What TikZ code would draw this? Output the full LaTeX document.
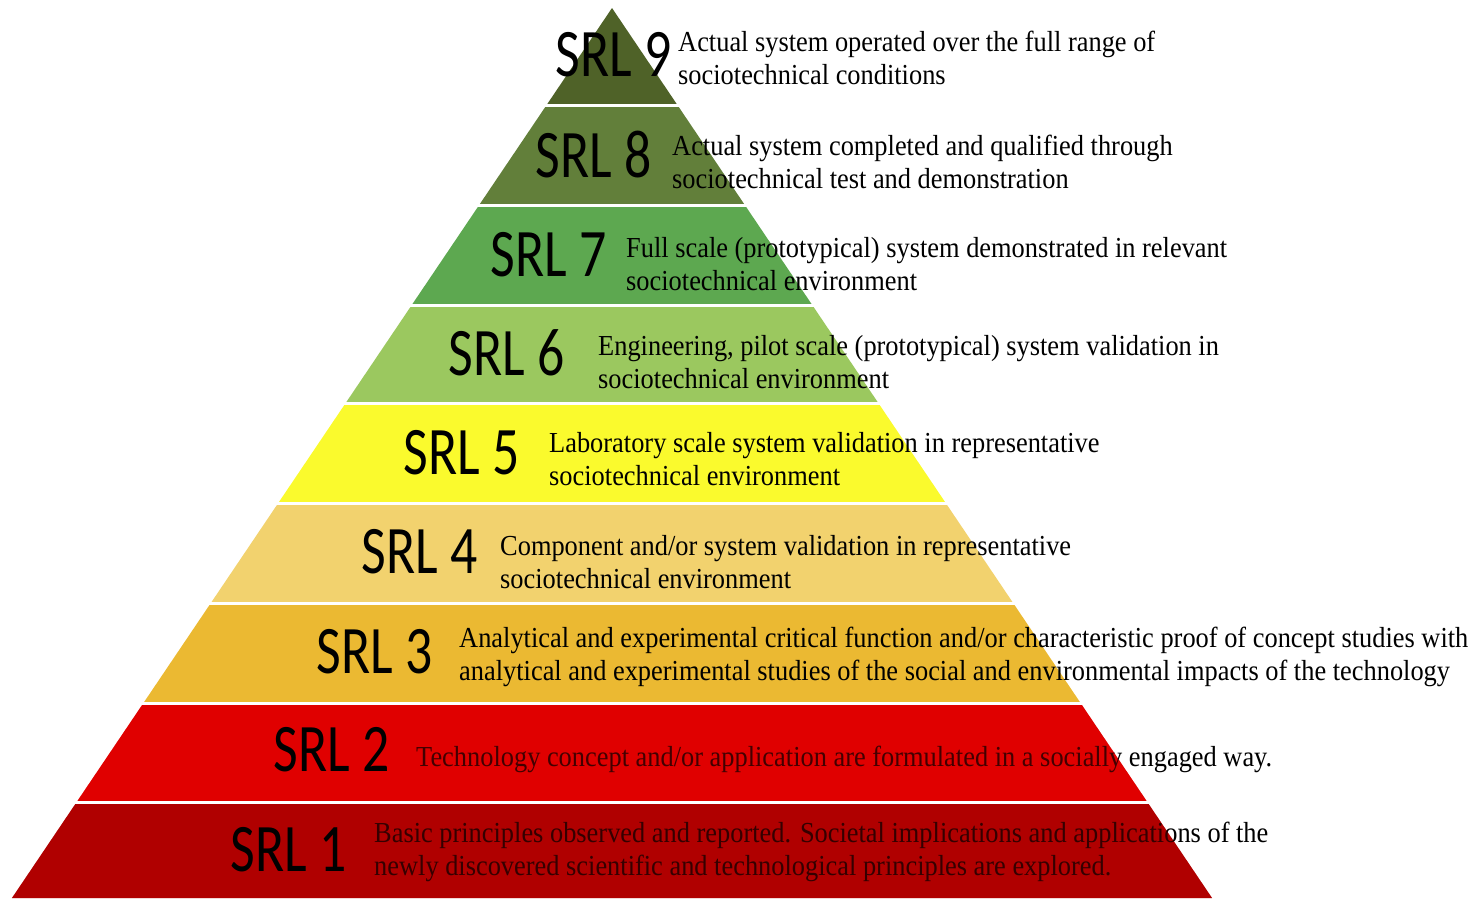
\documentclass[tikz,border=0pt]{standalone}
\usepackage{fontspec}
\usepackage{tikz}
\usetikzlibrary{positioning}
\setmainfont{Liberation Serif}[FakeStretch=0.91]
\newfontfamily\srlfont{Carlito}[FakeStretch=0.79]
\definecolor{srlNine}{HTML}{4F6228}
\definecolor{srlEight}{HTML}{627F3A}
\definecolor{srlSeven}{HTML}{5DA850}
\definecolor{srlSix}{HTML}{9BC85F}
\definecolor{srlFive}{HTML}{FAFA2D}
\definecolor{srlFour}{HTML}{F2D26E}
\definecolor{srlThree}{HTML}{EBB932}
\definecolor{srlTwo}{HTML}{E00000}
\definecolor{srlOne}{HTML}{B00000}
% one band of the pyramid between two heights (apex at 612,8)
\newcommand{\srlband}[2]{({612-(#1-8)*0.6742},#1) -- ({612+(#1-8)*0.6742},#1) -- ({612+(#2-8)*0.6742},#2) -- ({612-(#2-8)*0.6742},#2) -- cycle}
\tikzset{
  srl/.style={font=\srlfont\fontsize{68}{70}\selectfont, inner sep=0pt},
  desc/.style={font=\fontsize{29}{33}\selectfont, align=left, inner sep=0pt, anchor=west},
}

\begin{document}
\begin{tikzpicture}[x=1pt, y=-1pt]
    \useasboundingbox (0,0) rectangle (1476,898);
    % bands
    \foreach \t/\b/\c in {8/105/srlNine, 105/205/srlEight, 205/305/srlSeven,
        305/403/srlSix, 403/503/srlFive, 503/603/srlFour, 603/703/srlThree,
        703/802/srlTwo, 802/898/srlOne}
        \fill[\c] \srlband{\t}{\b};
    % white gaps
    \foreach \y in {105,205,305,403,503,603,703,802}
        \draw[white, line width=3pt] ({612-(\y-8)*0.6742-2},\y) -- ({612+(\y-8)*0.6742+2},\y);
    % descriptions
    \node[desc] (d9) at (678,58) {Actual system operated over the full range of\\sociotechnical conditions};
    \node[desc] (d8) at (672,162) {Actual system completed and qualified through\\sociotechnical test and demonstration};
    \node[desc] (d7) at (626,264) {Full scale (prototypical) system demonstrated in relevant\\sociotechnical environment};
    \node[desc] (d6) at (598,362) {Engineering, pilot scale (prototypical) system validation in\\sociotechnical environment};
    \node[desc] (d5) at (549,459) {Laboratory scale system validation in representative\\sociotechnical environment};
    \node[desc] (d4) at (500,562) {Component and/or system validation in representative\\sociotechnical environment};
    \node[desc] (d3) at (459,657) {Analytical and experimental critical function and/or characteristic proof of concept studies with\\analytical and experimental studies of the social and environmental impacts of the technology};
    \node[desc] (d2) at (416,759) {Technology concept and/or application are formulated in a socially engaged way.};
    \node[desc] (d1) at (374,852) {Basic principles observed and reported. Societal implications and applications of the\\newly discovered scientific and technological principles are explored.};
    % red bands shade the text lying on them
    \fill[srlTwo, fill opacity=0.3] \srlband{705}{800};
    \fill[srlOne, fill opacity=0.3] \srlband{804}{898};
    % level labels
    \node[srl, left=6pt of d9.west, yshift=3pt] (srl9) {SRL 9};
    \node[srl, left=20pt of d8.west, yshift=7pt] (srl8) {SRL 8};
    \node[srl, left=19pt of d7.west, yshift=9pt] (srl7) {SRL 7};
    \node[srl, left=33pt of d6.west, yshift=9pt] (srl6) {SRL 6};
    \node[srl, left=29pt of d5.west, yshift=6pt] (srl5) {SRL 5};
    \node[srl, left=22pt of d4.west, yshift=10pt] (srl4) {SRL 4};
    \node[srl, left=26pt of d3.west, yshift=5pt] (srl3) {SRL 3};
    \node[srl, left=26pt of d2.west, yshift=9pt] (srl2) {SRL 2};
    \node[srl, left=27pt of d1.west, yshift=2pt] (srl1) {SRL 1};
\end{tikzpicture}
\end{document}
